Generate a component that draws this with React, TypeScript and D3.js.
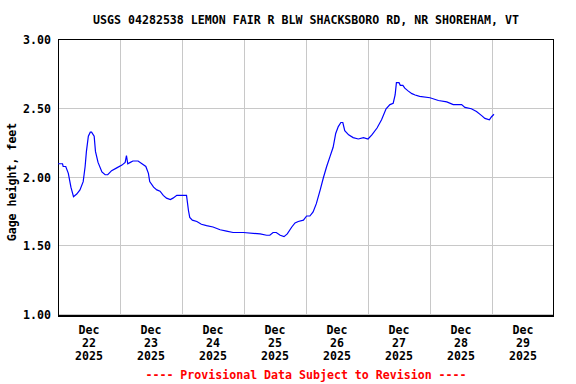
import React, { useRef, useEffect } from 'react';
import * as d3 from 'd3';

// gage height readings (local time, feet)
const times = [
  '2025-12-22 00:00', '2025-12-22 01:45', '2025-12-22 02:00', '2025-12-22 03:00', '2025-12-22 04:00',
  '2025-12-22 05:00', '2025-12-22 06:00', '2025-12-22 07:15', '2025-12-22 08:30', '2025-12-22 09:45',
  '2025-12-22 10:30', '2025-12-22 11:00', '2025-12-22 11:45', '2025-12-22 12:30', '2025-12-22 13:00',
  '2025-12-22 14:00', '2025-12-22 14:30', '2025-12-22 15:30', '2025-12-22 17:00', '2025-12-22 18:15',
  '2025-12-22 19:15', '2025-12-22 20:45', '2025-12-22 22:45', '2025-12-23 00:45', '2025-12-23 02:00',
  '2025-12-23 02:30', '2025-12-23 03:00', '2025-12-23 04:00', '2025-12-23 05:00', '2025-12-23 07:00',
  '2025-12-23 08:30', '2025-12-23 10:00', '2025-12-23 11:00', '2025-12-23 11:30', '2025-12-23 13:00',
  '2025-12-23 14:15', '2025-12-23 15:30', '2025-12-23 16:45', '2025-12-23 18:00', '2025-12-23 19:30',
  '2025-12-23 20:30', '2025-12-23 22:00', '2025-12-24 01:45', '2025-12-24 02:30', '2025-12-24 03:00',
  '2025-12-24 04:00', '2025-12-24 05:45', '2025-12-24 07:30', '2025-12-24 09:30', '2025-12-24 12:00',
  '2025-12-24 14:45', '2025-12-24 17:15', '2025-12-24 19:45', '2025-12-24 23:45', '2025-12-25 06:15',
  '2025-12-25 08:45', '2025-12-25 10:00', '2025-12-25 11:15', '2025-12-25 12:30', '2025-12-25 14:00',
  '2025-12-25 15:30', '2025-12-25 16:45', '2025-12-25 18:30', '2025-12-25 19:45', '2025-12-25 21:00',
  '2025-12-25 23:00', '2025-12-26 00:15', '2025-12-26 01:30', '2025-12-26 02:45', '2025-12-26 04:00',
  '2025-12-26 05:30', '2025-12-26 06:45', '2025-12-26 08:00', '2025-12-26 09:15', '2025-12-26 10:30',
  '2025-12-26 11:30', '2025-12-26 12:30', '2025-12-26 13:30', '2025-12-26 14:15', '2025-12-26 15:00',
  '2025-12-26 16:30', '2025-12-26 18:15', '2025-12-26 20:15', '2025-12-26 22:15', '2025-12-27 00:00',
  '2025-12-27 01:30', '2025-12-27 03:30', '2025-12-27 05:15', '2025-12-27 07:00', '2025-12-27 08:30',
  '2025-12-27 09:45', '2025-12-27 10:30', '2025-12-27 11:00', '2025-12-27 12:00', '2025-12-27 12:30',
  '2025-12-27 13:30', '2025-12-27 14:15', '2025-12-27 15:30', '2025-12-27 17:00', '2025-12-27 18:15',
  '2025-12-27 20:00', '2025-12-28 00:00', '2025-12-28 03:15', '2025-12-28 06:30', '2025-12-28 09:00',
  '2025-12-28 12:15', '2025-12-28 13:30', '2025-12-28 16:00', '2025-12-28 18:00', '2025-12-28 20:00',
  '2025-12-28 21:15', '2025-12-28 23:00', '2025-12-28 23:45', '2025-12-29 00:45',
];
const heights = [
  2.10, 2.10, 2.08, 2.08, 2.03,
  1.93, 1.86, 1.88, 1.91, 1.97,
  2.08, 2.19, 2.30, 2.33, 2.33,
  2.30, 2.19, 2.11, 2.04, 2.02,
  2.02, 2.05, 2.07, 2.09, 2.11,
  2.16, 2.10, 2.11, 2.12, 2.12,
  2.10, 2.08, 2.03, 1.97, 1.93,
  1.91, 1.90, 1.87, 1.85, 1.84,
  1.85, 1.87, 1.87, 1.76, 1.71,
  1.69, 1.68, 1.66, 1.65, 1.64,
  1.62, 1.61, 1.60, 1.60, 1.59,
  1.58, 1.58, 1.60, 1.60, 1.58,
  1.57, 1.59, 1.64, 1.67, 1.68,
  1.69, 1.72, 1.72, 1.75, 1.81,
  1.91, 2.00, 2.08, 2.15, 2.22,
  2.32, 2.37, 2.40, 2.40, 2.34,
  2.31, 2.29, 2.28, 2.29, 2.28,
  2.31, 2.36, 2.42, 2.50, 2.53,
  2.54, 2.60, 2.69, 2.69, 2.67,
  2.67, 2.65, 2.63, 2.61, 2.60,
  2.59, 2.58, 2.56, 2.55, 2.53,
  2.53, 2.51, 2.50, 2.48, 2.45,
  2.43, 2.42, 2.44, 2.46,
];
const dayLabels = ['22', '23', '24', '25', '26', '27', '28', '29'];
const yTicks = [1.0, 1.5, 2.0, 2.5, 3.0];

const title = 'USGS 04282538 LEMON FAIR R BLW SHACKSBORO RD, NR SHOREHAM, VT';
const yTitle = 'Gage height, feet';
const footer = '---- Provisional Data Subject to Revision ----';

const W = 576, H = 384;
const margin = { top: 40, right: 22, bottom: 69, left: 58 };
const FONT = '"DejaVu Sans Mono", "Liberation Mono", monospace';

function App() {
  const ref = useRef(null);

  useEffect(() => {
    const parse = d3.timeParse('%Y-%m-%d %H:%M');
    const data = times.map((t, i) => ({ t: parse(t), v: heights[i] }));
    const start = parse('2025-12-22 00:00');
    const end = parse('2025-12-30 00:00');

    const x = d3.scaleTime().domain([start, end]).range([margin.left, W - margin.right]);
    const y = d3.scaleLinear().domain([1, 3]).range([H - margin.bottom, margin.top]);

    const svg = d3.select(ref.current);
    svg.selectAll('*').remove();

    svg.append('rect').attr('width', W).attr('height', H).attr('fill', '#fff');

    const days = d3.timeDay.range(start, end);
    const g = svg.append('g');

    // grid
    g.selectAll('.vgrid')
      .data(days.slice(1))
      .enter().append('line')
      .attr('x1', d => Math.round(x(d)) + 0.5)
      .attr('x2', d => Math.round(x(d)) + 0.5)
      .attr('y1', margin.top)
      .attr('y2', H - margin.bottom)
      .attr('stroke', '#c8c8c8');

    g.selectAll('.hgrid')
      .data(yTicks)
      .enter().append('line')
      .attr('x1', margin.left)
      .attr('x2', W - margin.right)
      .attr('y1', d => Math.round(y(d)) - 0.5)
      .attr('y2', d => Math.round(y(d)) - 0.5)
      .attr('stroke', '#c8c8c8');

    // frame
    g.append('rect')
      .attr('x', margin.left + 0.5)
      .attr('y', margin.top - 0.5)
      .attr('width', W - margin.right - margin.left - 1)
      .attr('height', H - margin.bottom - margin.top + 1)
      .attr('fill', 'none')
      .attr('stroke', '#000');
    g.append('line')
      .attr('x1', margin.left)
      .attr('x2', W - margin.right)
      .attr('y1', H - margin.bottom + 1)
      .attr('y2', H - margin.bottom + 1)
      .attr('stroke', '#000')
      .attr('stroke-width', 2);

    // series
    const line = d3.line()
      .x(d => x(d.t))
      .y(d => y(d.v));
    g.append('path')
      .datum(data)
      .attr('d', line)
      .attr('fill', 'none')
      .attr('stroke', '#0000ff')
      .attr('stroke-width', 1.2);

    const txt = { 'font-family': FONT, 'font-weight': 'bold', 'font-size': '11.6px' };
    const applyTxt = sel => { Object.entries(txt).forEach(([k, v]) => sel.attr(k, v)); return sel; };

    // y tick labels
    applyTxt(g.selectAll('.ylab')
      .data(yTicks)
      .enter().append('text')
      .attr('x', 51)
      .attr('y', d => y(d) + 4)
      .attr('text-anchor', 'end')
      .text(d => d3.format('.2f')(d)));

    // x labels, at noon of each day
    const xl = g.selectAll('.xlab')
      .data(days)
      .enter().append('g')
      .attr('transform', d => `translate(${x(d3.timeHour.offset(d, 12))},0)`);
    [['Dec', 334], [null, 347], ['2025', 360]].forEach(([s, yy], i) => {
      applyTxt(xl.append('text')
        .attr('y', yy)
        .attr('text-anchor', 'middle')
        .text((d, j) => s ?? dayLabels[j]));
    });

    applyTxt(svg.append('text')
      .attr('x', 306)
      .attr('y', 24)
      .attr('text-anchor', 'middle')
      .text(title));

    applyTxt(svg.append('text')
      .attr('transform', 'translate(16,182) rotate(-90)')
      .attr('text-anchor', 'middle')
      .text(yTitle));

    applyTxt(svg.append('text')
      .attr('x', 306)
      .attr('y', 379)
      .attr('text-anchor', 'middle')
      .attr('fill', '#ff0000')
      .text(footer));
  }, []);

  return (
    <svg ref={ref} width={W} height={H}
      style={{ position: 'absolute', left: 0, top: 0, display: 'block' }} />
  );
}

export default App;
